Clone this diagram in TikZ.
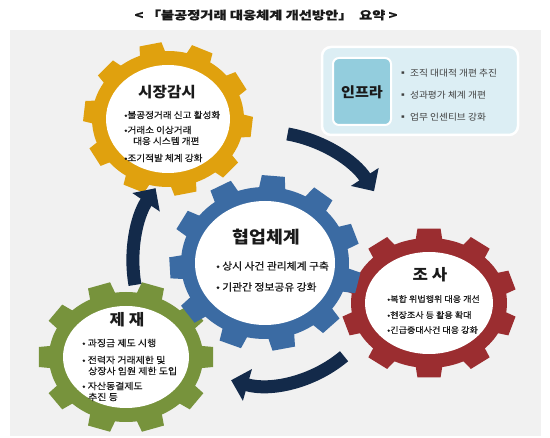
\documentclass[tikz,border=0pt]{standalone}
\usepackage{fontspec}
\newfontfamily\kr{Noto Sans CJK KR}[FakeStretch=1.08]
\newfontfamily\krm{Noto Sans CJK KR}[FakeStretch=1.08,FakeBold=0.6]
\usetikzlibrary{arrows.meta}
\definecolor{panel}{HTML}{F1F1F1}
\definecolor{gold}{HTML}{E0A10E}
\definecolor{gblue}{HTML}{3B6BA3}
\definecolor{gred}{HTML}{9B2D30}
\definecolor{ggreen}{HTML}{77933C}
\definecolor{navy}{HTML}{132A4A}
\definecolor{infrabg}{HTML}{DCEEF4}
\definecolor{infrain}{HTML}{93CDDD}
\definecolor{txt}{HTML}{1A1A1A}
% cx, cy, rx, ry, n, rot, color, tooth height
\newcommand\mygear[8]{%
\begin{scope}[shift={(#1,#2)}]
 \fill[#7] (0,0) ellipse [x radius=#3+14, y radius=#4+14];
 \foreach \k in {1,...,#5}{
   \pgfmathsetmacro\gA{#6+360/#5*(\k-1)}
   \pgfmathsetmacro\gP{360/#5}
   \fill[#7] ({(#3+10)*cos(\gA-0.3*\gP)},{(#4+10)*sin(\gA-0.3*\gP)})
     -- ({(#3+#8)*cos(\gA-0.21*\gP)},{(#4+#8)*sin(\gA-0.21*\gP)})
     -- ({(#3+#8)*cos(\gA+0.21*\gP)},{(#4+#8)*sin(\gA+0.21*\gP)})
     -- ({(#3+10)*cos(\gA+0.3*\gP)},{(#4+10)*sin(\gA+0.3*\gP)}) -- cycle;
 }
 \fill[white] (0,0) ellipse [x radius=#3, y radius=#4];
\end{scope}}
\begin{document}
\begin{tikzpicture}[x=1pt,y=-1pt,
  gtitle/.style={font=\kr\bfseries\fontsize{14.5}{16}\selectfont, text=txt, inner sep=0},
  blt/.style={font=\krm\fontsize{8.9}{10}\selectfont, anchor=west, inner sep=0, text=txt},
  ibl/.style={font=\kr\fontsize{9}{10}\selectfont, anchor=west, inner sep=0, text=black!75},
  cyc/.style={navy, line width=13pt, -{Triangle[width=32pt,length=17pt]}}]
\useasboundingbox (0,0) rectangle (550,438);
\fill[white] (0,0) rectangle (550,438);
\fill[panel] (10,30) rectangle (541,436);
\node[font=\krm\bfseries\fontsize{11.5}{13}\selectfont, text=txt] (title) at (266,15)
  {\scalebox{1.15}[1]{<\ 「불공정거래\ 대응체계\ 개선방안」\ \ 요약\ >}};
% infra box
\draw[white, line width=2.5pt, fill=infrabg, rounded corners=9pt] (322,47) rectangle (518,135);
\draw[white, line width=2pt, fill=infrain, rounded corners=6pt] (333,58) rectangle (391,125);
\node[gtitle, font=\kr\bfseries\fontsize{14}{15}\selectfont] (infra) at (362,92) {인프라};
\node[ibl] (i1) at (398,73) {▪ 조직 대대적 개편 추진};
\node[ibl] (i2) at (398,95) {▪ 성과평가 체계 개편};
\node[ibl] (i3) at (398,117) {▪ 업무 인센티브 강화};
% gears
\mygear{168}{119}{62}{54}{10}{258}{gold}{23}
\mygear{126}{357}{63}{51}{10}{288}{ggreen}{25}
\mygear{429}{303}{64}{51}{10}{270}{gred}{24}
\mygear{265}{263}{70}{62}{11}{275}{gblue}{26}
% arrows
\coordinate (c) at (265,262);
\draw[cyc] (c) ++(-80:130) arc[start angle=-80, end angle=-33, radius=130];
\draw[cyc] (c) ++(170:132) arc[start angle=170, end angle=214, radius=132];
\draw[cyc] (c) ++(50:123) arc[start angle=50, end angle=106, radius=123];
% yellow text
\node[gtitle] (t1) at (167,92) {시장감시};
\node[blt] (a1) at (124,115) {•불공정거래 신고 활성화};
\node[blt] (a2) at (124,130) {•거래소 이상거래};
\node[blt] (a3) at (133,141) {대응 시스템 개편};
\node[blt] (a4) at (124,158) {•조기적발 체계 강화};
% blue text
\node[gtitle, font=\kr\bfseries\fontsize{17}{18}\selectfont] (t2) at (266,237) {협업체계};
\node[blt, font=\krm\fontsize{10}{11}\selectfont] (b1) at (216,266) {•\ 상시 사건 관리체계 구축};
\node[blt, font=\krm\fontsize{10}{11}\selectfont] (b2) at (216,287) {•\ 기관간 정보공유 강화};
% red text
\node[gtitle, font=\kr\bfseries\fontsize{15.5}{17}\selectfont] (t3) at (430,275) {조\ 사};
\node[blt, font=\krm\fontsize{8.4}{10}\selectfont] (r1) at (387,299) {•복합 위법행위 대응 개선};
\node[blt, font=\krm\fontsize{8.4}{10}\selectfont] (r2) at (387,315) {•현장조사 등 활용 확대};
\node[blt, font=\krm\fontsize{8.4}{10}\selectfont] (r3) at (387,330) {•긴급중대사건 대응 강화};
% green text
\node[gtitle, font=\kr\bfseries\fontsize{15.5}{17}\selectfont] (t4) at (127,320) {제\ 재};
\node[blt, font=\krm\fontsize{9.2}{10}\selectfont] (g1) at (82,343) {•\ 과징금 제도 시행};
\node[blt, font=\krm\fontsize{9.2}{10}\selectfont] (g2) at (82,360) {•\ 전력자 거래제한 및};
\node[blt, font=\krm\fontsize{9.2}{10}\selectfont] (g3) at (88,371) {상장사 임원 제한 도입};
\node[blt, font=\krm\fontsize{9.2}{10}\selectfont] (g4) at (82,386) {•\ 자산동결제도};
\node[blt, font=\krm\fontsize{9.2}{10}\selectfont] (g5) at (88,397) {추진 등};
\end{tikzpicture}
\end{document}
